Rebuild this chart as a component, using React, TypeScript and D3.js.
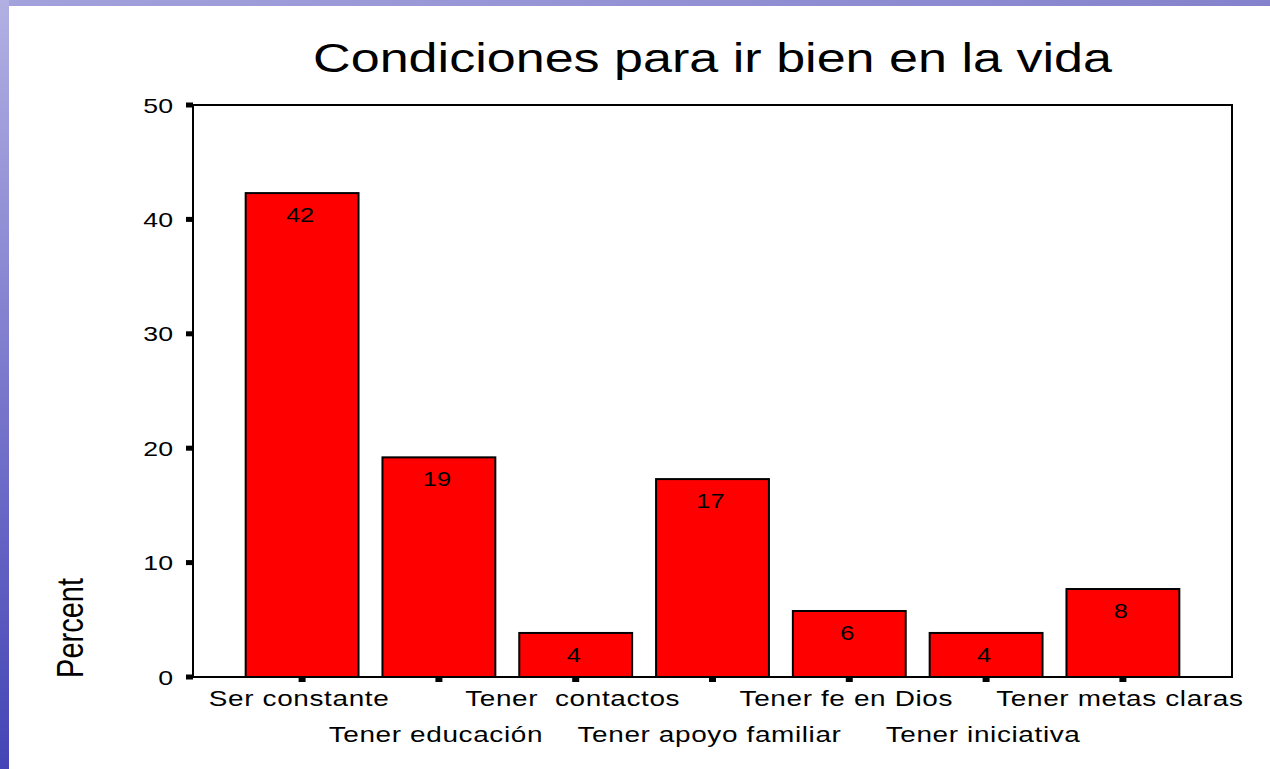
import React from "react";
import * as d3 from "d3";

const title = "Condiciones para ir bien en la vida";
const categories = [
  "Ser constante",
  "Tener educación",
  "Tener  contactos",
  "Tener apoyo familiar",
  "Tener fe en Dios",
  "Tener iniciativa",
  "Tener metas claras",
];
const percents = [42.3, 19.2, 3.85, 17.3, 5.77, 3.85, 7.69];
const valueLabels = ["42", "19", "4", "17", "6", "4", "8"];
const yTicks = [0, 10, 20, 30, 40, 50];
const yLabel = "Percent";

const W = 1270;
const H = 769;
const SX = 1.27; // horizontal text stretch of the original
const FONT = "Arial, 'Liberation Sans', Helvetica, sans-serif";

export default function App() {
  const left = 193;
  const right = 1232;
  const top = 105;
  const bottom = 677;

  const x = d3
    .scaleBand<string>()
    .domain(categories)
    .range([left, right])
    .paddingInner(0.175)
    .paddingOuter(0.385);
  const y = d3.scaleLinear().domain([0, 50]).range([bottom, top]);

  return (
    <svg
      width={W}
      height={H}
      style={{ position: "absolute", left: 0, top: 0, display: "block" }}
      fontFamily={FONT}
    >
      <defs>
        <linearGradient id="leftGrad" x1="0" y1="0" x2="0" y2="1">
          <stop offset="0" stopColor="#b2b0e2" />
          <stop offset="0.5" stopColor="#7a78cc" />
          <stop offset="1" stopColor="#4444b6" />
        </linearGradient>
        <linearGradient id="topGrad" x1="0" y1="0" x2="1" y2="0">
          <stop offset="0" stopColor="#a4a2dc" />
          <stop offset="1" stopColor="#8482cc" />
        </linearGradient>
      </defs>
      <rect x={0} y={0} width={W} height={H} fill="#ffffff" />
      <rect x={0} y={0} width={W} height={6} fill="url(#topGrad)" />
      <rect x={0} y={0} width={9} height={H} fill="url(#leftGrad)" />

      {/* title */}
      <text
        transform={`translate(${(left + right) / 2},72) scale(${SX},1)`}
        textAnchor="middle"
        fontSize={41}
        fill="#000"
      >
        {title}
      </text>

      {/* bars */}
      {categories.map((c, i) => (
        <rect
          key={c}
          x={x(c)!}
          y={y(percents[i])}
          width={x.bandwidth()}
          height={y(0) - y(percents[i])}
          fill="#ff0000"
          stroke="#000"
          strokeWidth={2}
        />
      ))}

      {/* value labels */}
      {categories.map((c, i) => (
        <text
          key={"v" + c}
          transform={`translate(${x(c)! + x.bandwidth() / 2 - 2},${y(percents[i]) + 29}) scale(${SX},1)`}
          textAnchor="middle"
          fontSize={20}
          fill="#000"
        >
          {valueLabels[i]}
        </text>
      ))}

      {/* frame */}
      <rect
        x={left}
        y={top}
        width={right - left}
        height={bottom - top}
        fill="none"
        stroke="#000"
        strokeWidth={2}
      />

      {/* y ticks */}
      {yTicks.map((t) => (
        <g key={"yt" + t}>
          <rect x={left - 7} y={y(t) - 2.5} width={7} height={5} fill="#000" />
          <text
            transform={`translate(${left - 20},${y(t) + 7.5}) scale(${SX},1)`}
            textAnchor="end"
            fontSize={21}
            fill="#000"
          >
            {t}
          </text>
        </g>
      ))}

      {/* x ticks and labels */}
      {categories.map((c, i) => {
        const cx = x(c)! + x.bandwidth() / 2;
        const ly = i % 2 === 0 ? 706 : 742;
        return (
          <g key={"xt" + c}>
            <rect x={cx - 3.5} y={bottom} width={7} height={5} fill="#000" />
            <text
              transform={`translate(${cx - 3},${ly}) scale(${SX},1)`}
              textAnchor="middle"
              fontSize={22}
              letterSpacing={0.5}
              fill="#000"
              style={{ whiteSpace: "pre" }}
            >
              {c}
            </text>
          </g>
        );
      })}

      {/* y axis label */}
      <text
        transform={`translate(83,628) scale(${SX},1) rotate(-90)`}
        textAnchor="middle"
        fontSize={29}
        fill="#000"
      >
        {yLabel}
      </text>
    </svg>
  );
}
